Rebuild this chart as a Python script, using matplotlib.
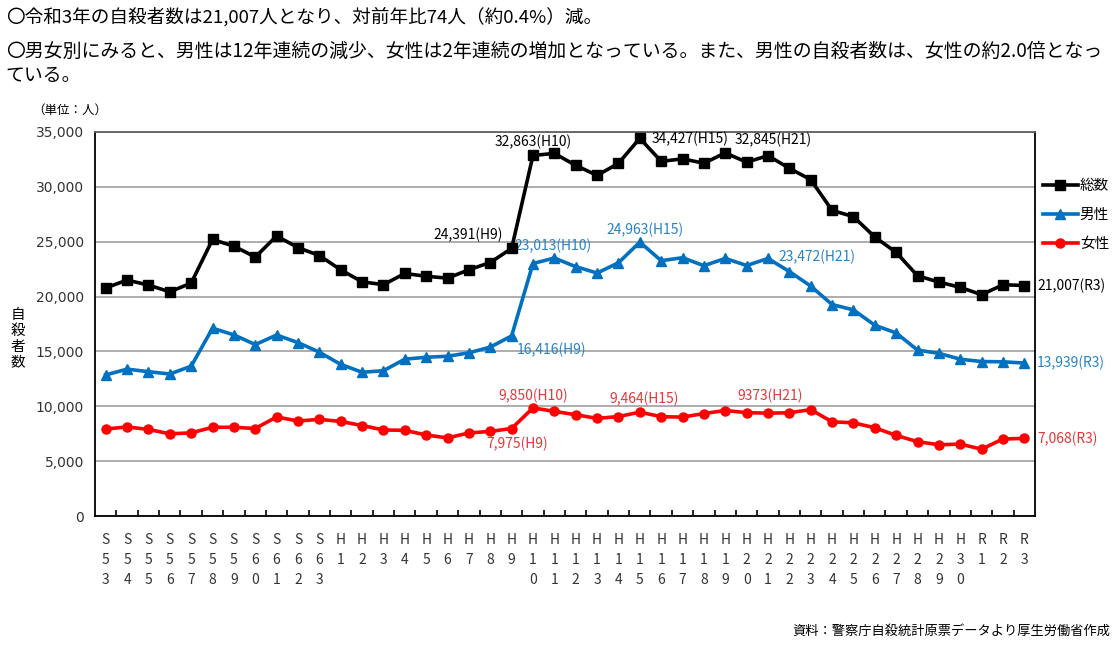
import matplotlib
matplotlib.use("Agg")
import matplotlib.pyplot as plt
import numpy as np

plt.rcParams['font.family'] = ['Noto Sans CJK JP', 'DejaVu Sans']

# 年（和暦）
years = (["S%d" % y for y in range(53, 64)]
         + ["H%d" % y for y in range(1, 31)]
         + ["R%d" % y for y in range(1, 4)])

total = [20788, 21503, 21048, 20434, 21228, 25202, 24596, 23599, 25524, 24460,
         23742, 22436, 21346, 21084, 22104, 21851, 21679, 22445, 23104, 24391,
         32863, 33048, 31957, 31042, 32143, 34427, 32325, 32552, 32155, 33093,
         32249, 32845, 31690, 30651, 27858, 27283, 25427, 24025, 21897, 21321,
         20840, 20169, 21081, 21007]
male = [12859, 13386, 13155, 12942, 13654, 17116, 16508, 15624, 16497, 15802,
        14934, 13818, 13102, 13242, 14296, 14468, 14560, 14874, 15393, 16416,
        23013, 23512, 22727, 22144, 23080, 24963, 23272, 23540, 22813, 23478,
        22831, 23472, 22283, 20955, 19273, 18787, 17386, 16681, 15121, 14826,
        14290, 14078, 14055, 13939]
female = [7929, 8117, 7893, 7492, 7574, 8086, 8088, 7975, 9027, 8658,
          8808, 8618, 8244, 7842, 7808, 7383, 7119, 7571, 7711, 7975,
          9850, 9536, 9230, 8898, 9063, 9464, 9053, 9012, 9342, 9615,
          9418, 9373, 9407, 9696, 8585, 8496, 8041, 7344, 6776, 6495,
          6550, 6091, 7026, 7068]

BLACK = "#000000"
BLUE = "#0070C0"
RED = "#FF0000"
BLUE_TXT = "#2583C6"
RED_TXT = "#E8353A"

fig = plt.figure(figsize=(11.18, 6.58), dpi=100)
ax = fig.add_axes([0.085, 0.2158, 0.8408, 0.5836])

x = np.arange(len(years))
ax.plot(x, total, color=BLACK, lw=2.6, marker="s", ms=6.5, label="総数", zorder=4)
ax.plot(x, male, color=BLUE, lw=2.6, marker="^", ms=7, label="男性", zorder=4)
ax.plot(x, female, color=RED, lw=2.6, marker="o", ms=6.5, label="女性", zorder=4)

ax.set_xlim(-0.5, len(years) - 0.5)
ax.set_ylim(0, 35000)
ax.set_yticks(range(0, 35001, 5000))
ax.set_yticklabels([f"{v:,}" for v in range(0, 35001, 5000)], fontsize=10,
                   family=["DejaVu Sans"], color="#333333")
ax.tick_params(axis="y", length=0, pad=8)
ax.yaxis.grid(True, color="#a0a0a0", lw=1.2)
ax.set_axisbelow(True)

ax.set_xticks(x)
ax.set_xticklabels(["\n".join(list(y)) for y in years], fontsize=10,
                   color="#333333", linespacing=1.55)
ax.tick_params(axis="x", which="major", length=0, pad=12)
ax.set_xticks(np.arange(0.5, len(years) - 1, 1), minor=True)
ax.tick_params(axis="x", which="minor", direction="in", length=4, width=1.2)

for s in ["left", "right", "bottom"]:
    ax.spines[s].set_color("black")
    ax.spines[s].set_linewidth(1.3)
ax.spines["top"].set_color("#606060")
ax.spines["top"].set_linewidth(1.3)

# 注記
i9, i10, i15, i21, i_end = years.index("H9"), years.index("H10"), years.index("H15"), years.index("H21"), len(years) - 1
fs = 10
ax.text(i10, 34086, f"{total[i10]:,}(H10)", ha="center", va="center", fontsize=fs, color=BLACK)
ax.text(i15 + 0.55, 34360, f"{total[i15]:,}(H15)", ha="left", va="center", fontsize=fs, color=BLACK)
ax.text(i21 + 0.25, 34270, f"{total[i21]:,}(H21)", ha="center", va="center", fontsize=fs, color=BLACK)
ax.text(i9 - 0.4, 25600, f"{total[i9]:,}(H9)", ha="right", va="center", fontsize=fs, color=BLACK)
ax.text(i_end + 0.6, total[i_end], f"{total[i_end]:,}(R3)", ha="left", va="center", fontsize=fs, color=BLACK)

ax.text(i10 - 0.85, 24650, f"{male[i10]:,}(H10)", ha="left", va="center", fontsize=fs, color=BLUE_TXT)
ax.text(i15 + 0.25, 26044, f"{male[i15]:,}(H15)", ha="center", va="center", fontsize=fs, color=BLUE_TXT)
ax.text(i21 + 0.5, 23577, f"{male[i21]:,}(H21)", ha="left", va="center", fontsize=fs, color=BLUE_TXT)
ax.text(i9 + 0.25, 15100, f"{male[i9]:,}(H9)", ha="left", va="center", fontsize=fs, color=BLUE_TXT)
ax.text(i_end + 0.6, male[i_end], f"{male[i_end]:,}(R3)", ha="left", va="center", fontsize=fs, color=BLUE_TXT)

ax.text(i10, 10966, f"{female[i10]:,}(H10)", ha="center", va="center", fontsize=fs, color=RED_TXT)
ax.text(i15 + 0.2, 10692, f"{female[i15]:,}(H15)", ha="center", va="center", fontsize=fs, color=RED_TXT)
ax.text(i21 + 0.1, 10966, f"{female[i21]}(H21)", ha="center", va="center", fontsize=fs, color=RED_TXT)
ax.text(i9 + 0.25, 6580, f"{female[i9]:,}(H9)", ha="center", va="center", fontsize=fs, color=RED_TXT)
ax.text(i_end + 0.6, female[i_end], f"{female[i_end]:,}(R3)", ha="left", va="center", fontsize=fs, color=RED_TXT)

leg = ax.legend(loc="upper left", bbox_to_anchor=(1.008, 0.878), frameon=False,
                borderaxespad=0, borderpad=0,
                fontsize=10.5, handlelength=2.4, handletextpad=0.15, labelspacing=1.05)

# 見出し
fig.text(0.005, 0.974, "〇令和3年の自殺者数は21,007人となり、対前年比74人（約0.4%）減。",
         fontsize=13.4, va="center", ha="left")
fig.text(0.005, 0.922, "〇男女別にみると、男性は12年連続の減少、女性は2年連続の増加となっている。また、男性の自殺者数は、女性の約2.0倍となっ",
         fontsize=13.6, va="center", ha="left")
fig.text(0.005, 0.885, "ている。", fontsize=13.6, va="center", ha="left")
fig.text(0.029, 0.833, "（単位：人）", fontsize=9, va="center", ha="left")
fig.text(0.016, 0.485, "自\n殺\n者\n数", fontsize=10.5, va="center", ha="center", linespacing=1.15)
fig.text(0.993, 0.04, "資料：警察庁自殺統計原票データより厚生労働省作成", fontsize=9.5,
         va="center", ha="right")

fig.savefig("out.png", dpi=100)
